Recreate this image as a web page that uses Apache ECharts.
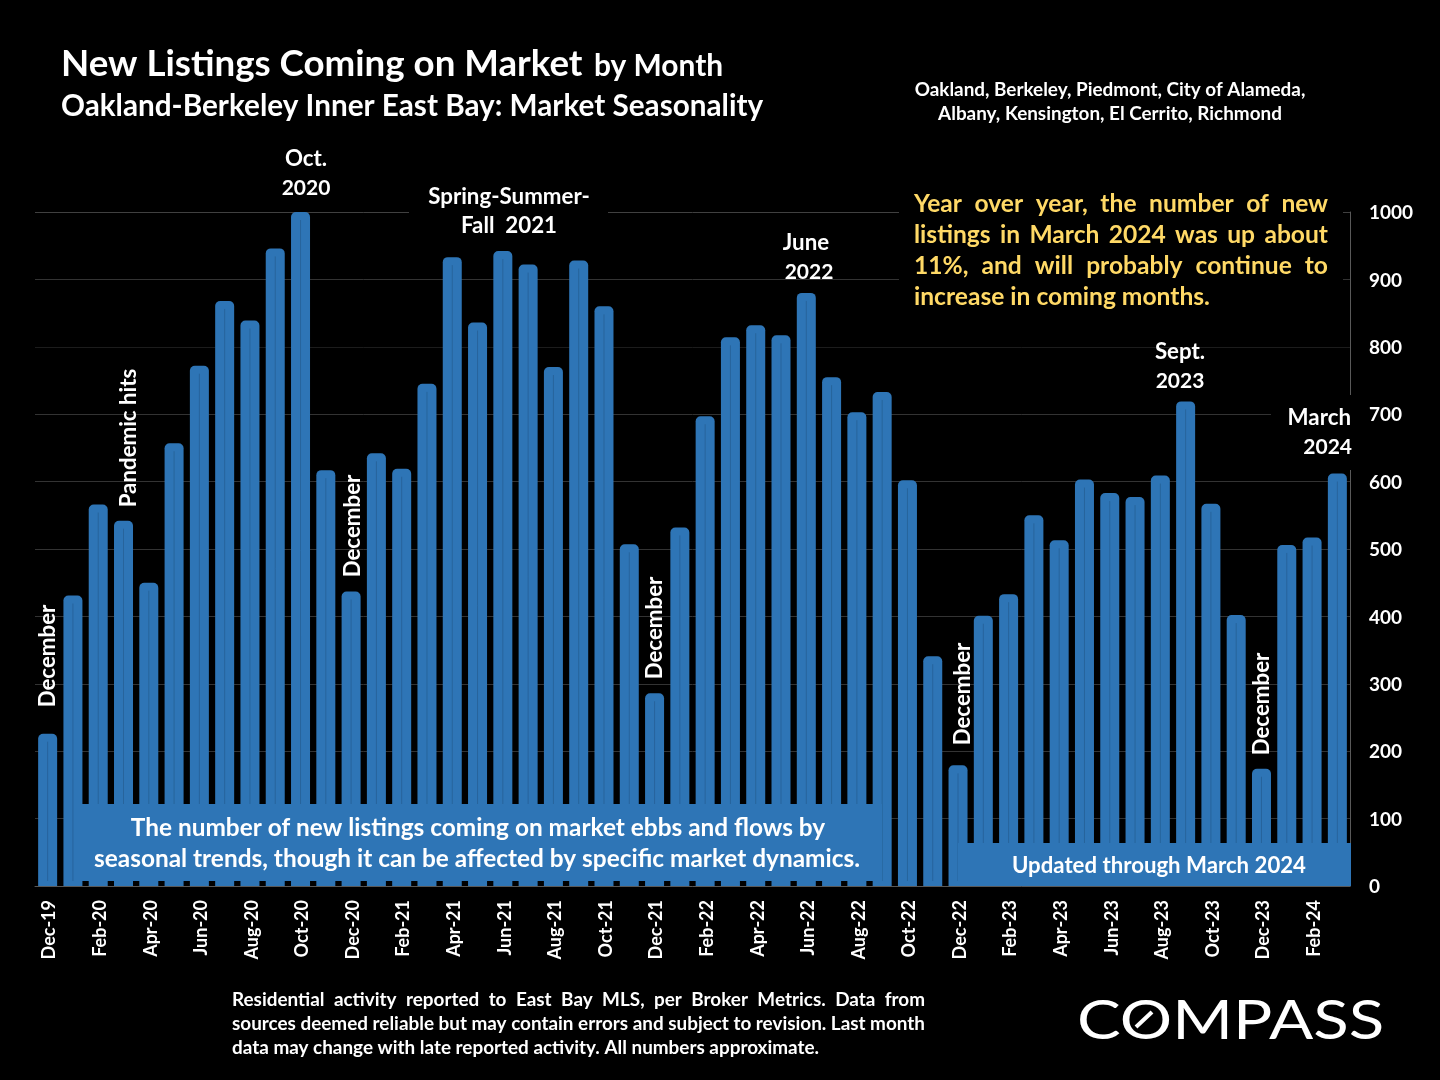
<!DOCTYPE html>
<html>
<head>
<meta charset="utf-8">
<title>New Listings Coming on Market</title>
<script src="https://cdn.jsdelivr.net/npm/echarts@6/dist/echarts.min.js"></script>
<style>
html,body{margin:0;padding:0;background:#000;}
#chart{width:1440px;height:1080px;}
</style>
</head>
<body>
<div id="chart"></div>
<script>
var months = ['Dec-19','Jan-20','Feb-20','Mar-20','Apr-20','May-20','Jun-20','Jul-20','Aug-20','Sep-20','Oct-20','Nov-20',
    'Dec-20','Jan-21','Feb-21','Mar-21','Apr-21','May-21','Jun-21','Jul-21','Aug-21','Sep-21','Oct-21','Nov-21',
    'Dec-21','Jan-22','Feb-22','Mar-22','Apr-22','May-22','Jun-22','Jul-22','Aug-22','Sep-22','Oct-22','Nov-22',
    'Dec-22','Jan-23','Feb-23','Mar-23','Apr-23','May-23','Jun-23','Jul-23','Aug-23','Sep-23','Oct-23','Nov-23',
    'Dec-23','Jan-24','Feb-24','Mar-24'];
var listings = [226,431,566,542,450,657,772,868,839,946,1000,617,
    437,642,619,745,933,836,942,922,770,928,860,507,
    286,532,697,814,832,817,880,755,703,733,602,341,
    179,401,433,550,513,603,583,577,609,719,567,402,
    174,506,517,612];
var titleMain = 'New Listings Coming on Market';
var titleBy = 'by Month';
var subTitle = 'Oakland-Berkeley Inner East Bay: Market Seasonality';
var areaLines = ['Oakland, Berkeley, Piedmont, City of Alameda,', 'Albany, Kensington, El Cerrito, Richmond'];
var noteLines = ['Year over year, the number of new', 'listings in March 2024 was up about', '11%, and will probably continue to', 'increase in coming months.'];
var bannerLines = ['The number of new listings coming on market ebbs and flows by', 'seasonal trends, though it can be affected by specific market dynamics.'];
var updatedText = 'Updated through March 2024';
var footLines = ['Residential activity reported to East Bay MLS, per Broker Metrics. Data from',
    'sources deemed reliable but may contain errors and subject to revision. Last month',
    'data may change with late reported activity. All numbers approximate.'];

var BLUE = '#2E75B6';
var FONT = 'Lato';
var LABEL = 22.3;
var YEAR = 21;

function txt(text, x, y, size, opt){
    opt = opt || {};
    var align = opt.align || 'center';
    return {
        type: 'text', x: x, y: y, z: opt.z || 6,
        rotation: opt.rotation || 0,
        scaleX: opt.scaleX || 1,
        style: {
            text: text, fill: opt.color || '#fff',
            font: (opt.weight || 'bold') + ' ' + size + 'px ' + FONT,
            align: align, verticalAlign: 'middle',
            textAlign: align, textVerticalAlign: 'middle'
        }
    };
}
function mask(x, y, w, h, color, z){
    return {type: 'rect', z: z || 1, shape: {x: x, y: y, width: w, height: h}, style: {fill: color || '#000'}};
}
// lay out a line word by word so it fills x0..x1
var measure = document.createElement('canvas').getContext('2d');
function justify(line, x0, x1, y, size, color){
    measure.font = 'bold ' + size + 'px ' + FONT;
    var words = line.split(' ');
    var total = 0;
    words.forEach(function(w){ total += measure.measureText(w).width; });
    var gap = (x1 - x0 - total) / (words.length - 1);
    var x = x0;
    return words.map(function(w){
        var el = txt(w, x, y, size, {align: 'left', color: color});
        x += measure.measureText(w).width + gap;
        return el;
    });
}

var elements = [
    // black boxes behind the call-outs hide the grid lines
    mask(409, 180, 199, 60),
    mask(899, 185, 444, 125),
    mask(1271, 395, 82, 75),
    // blue banners over the bars
    mask(78, 804, 804, 77, BLUE, 5),
    mask(958, 843, 393, 43, BLUE, 5),

    txt(titleMain, 61, 64, 36.7, {align: 'left'}),
    txt(titleBy, 594, 66, 29.9, {align: 'left'}),
    txt(subTitle, 61, 106, 29.7, {align: 'left'}),
    txt(areaLines[0], 1110, 90, 18.9),
    txt(areaLines[1], 1110, 114, 18.9),

    txt('Oct.', 306, 159, LABEL), txt('2020', 306, 188, YEAR),
    txt('Spring-Summer-', 509, 197, LABEL), txt('Fall  2021', 509, 226, LABEL),
    txt('June', 806, 243, LABEL), txt('2022', 809, 272, YEAR),
    txt('Sept.', 1180, 352, LABEL), txt('2023', 1180, 381, YEAR),
    txt('March', 1351, 418, LABEL, {align: 'right'}), txt('2024', 1352, 447, YEAR, {align: 'right'}),

    txt('Pandemic hits', 129, 438, LABEL, {rotation: Math.PI / 2}),
    txt('December', 48, 656, LABEL, {rotation: Math.PI / 2}),
    txt('December', 353, 526, LABEL, {rotation: Math.PI / 2}),
    txt('December', 655, 628, LABEL, {rotation: Math.PI / 2}),
    txt('December', 963, 694, LABEL, {rotation: Math.PI / 2}),
    txt('December', 1262, 704, LABEL, {rotation: Math.PI / 2}),

    txt(bannerLines[0], 478, 828, 24.4),
    txt(bannerLines[1], 477, 859, 24.4),
    txt(updatedText, 1159, 866, 22.2),

    txt(noteLines[3], 914, 297, 24.6, {align: 'left', color: '#FFD966'}),
    txt(footLines[2], 232, 1048, 18.9, {align: 'left'}),

    // logo
    txt('COMPASS', 1077, 1021, 55, {align: 'left', weight: 'normal', scaleX: 1.19}),
    {type: 'line', z: 7, shape: {x1: 1136, y1: 1027, x2: 1152, y2: 1012}, style: {stroke: '#fff', lineWidth: 4}}
];
for (var i = 0; i < 3; i++) {
    elements = elements.concat(justify(noteLines[i], 914, 1328, 204 + i * 31, 24.6, '#FFD966'));
}
for (var j = 0; j < 2; j++) {
    elements = elements.concat(justify(footLines[j], 232, 925, 1000 + j * 24, 18.9, '#fff'));
}

var chart = echarts.init(document.getElementById('chart'), null, {renderer: 'canvas'});
var option = {
    backgroundColor: '#000',
    animation: false,
    grid: {left: 35, top: 212, width: 1315, height: 674},
    textStyle: {fontFamily: FONT},
    xAxis: {
        type: 'category',
        data: months,
        axisLine: {lineStyle: {color: '#595959', width: 1}},
        axisTick: {show: false},
        axisLabel: {interval: 1, rotate: 90, margin: 14, formatter: '{a|{value}}',
            rich: {a: {color: '#fff', fontFamily: FONT, fontWeight: 'bold', fontSize: 18, padding: [4, 0, 0, 0]}}}
    },
    yAxis: {
        type: 'value',
        position: 'right',
        min: 0, max: 1000, interval: 100,
        axisLine: {show: true, lineStyle: {color: '#595959', width: 1}},
        axisTick: {show: false},
        axisLabel: {margin: 19, formatter: function(v){ return '{a|' + v + '}'; },
            rich: {a: {color: '#fff', fontFamily: FONT, fontWeight: 'bold', fontSize: 19, padding: [2, 0, 0, 0]}}},
        splitLine: {lineStyle: {color: ['#333','#333','#333','#333','#333','#333','#333','#333','#1c1c1c','#333','#404040'], width: 1}}
    },
    series: [
        {
            name: 'New Listings',
            type: 'bar',
            data: listings,
            barWidth: 19,
            itemStyle: {color: BLUE, borderRadius: [5, 5, 0, 0]},
            silent: true
        },
        {
            // the faint centre line each bar has in the original
            name: 'Centre',
            type: 'custom',
            z: 3,
            silent: true,
            data: listings,
            renderItem: function(params, api){
                var top = api.coord([api.value(0), api.value(1)]);
                var base = api.coord([api.value(0), 0]);
                return {
                    type: 'line',
                    shape: {x1: top[0], y1: top[1] + 8, x2: base[0], y2: base[1] - 5},
                    style: {stroke: '#27649c', lineWidth: 1}
                };
            }
        }
    ],
    graphic: {elements: elements}
};
chart.setOption(option);
window.onresize = function(){ chart.resize(); };
</script>
</body>
</html>
